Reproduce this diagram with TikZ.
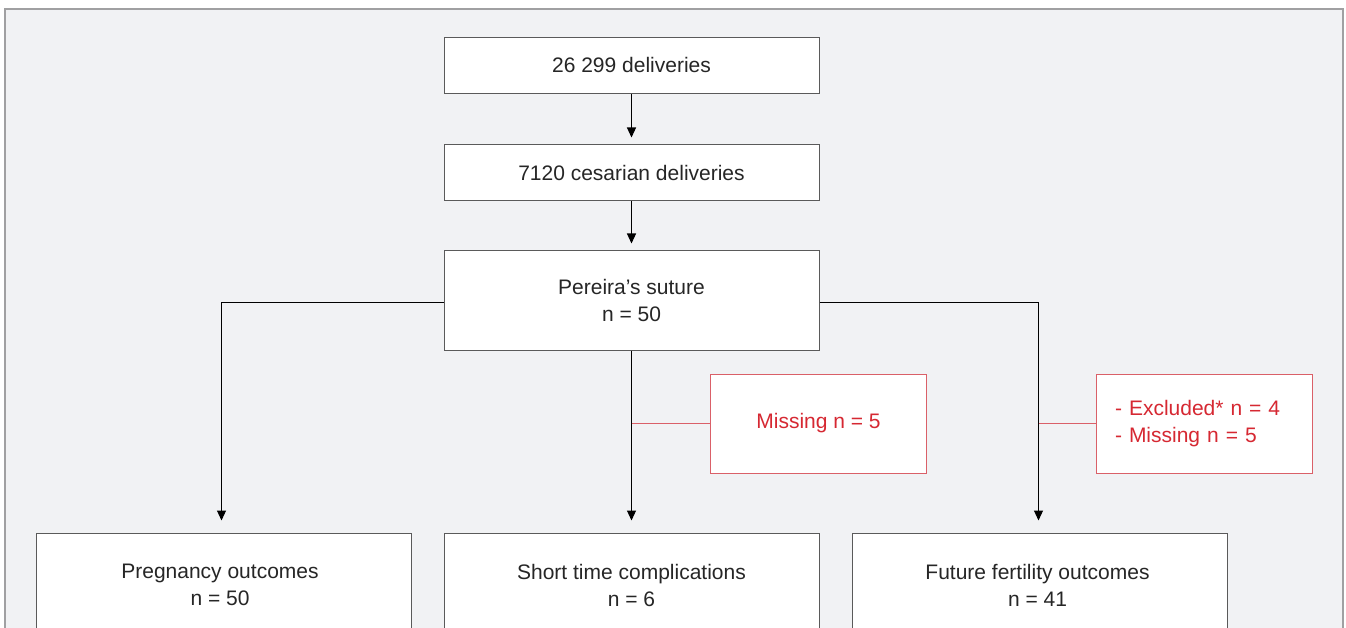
\documentclass[tikz,border=0pt]{standalone}
\usepackage{fontspec}
\setmainfont{Liberation Sans}
\usetikzlibrary{arrows.meta}
\definecolor{panel}{RGB}{241,242,244}
\definecolor{frame}{RGB}{160,160,162}
\definecolor{boxline}{RGB}{90,90,90}
\definecolor{misstext}{RGB}{214,40,50}
\definecolor{missline}{RGB}{218,96,104}
\begin{document}
\begin{tikzpicture}[x=1pt,y=-1pt,
  box/.style={draw=boxline,line width=1pt,fill=white,minimum width=375pt,inner sep=0pt,align=center,text=black!85,font=\fontsize{21}{27}\selectfont},
  missbox/.style={draw=missline,line width=1pt,fill=white,minimum width=216pt,minimum height=99pt,inner sep=0pt,text=misstext,font=\fontsize{21}{27}\selectfont},
  arr/.style={line width=1.1pt,-{Triangle[length=10pt,width=9pt]}},
  link/.style={missline,line width=1pt}]
\useasboundingbox (0,0) rectangle (1346,628);
\clip (0,0) rectangle (1346,628);
\fill[white] (0,0) rectangle (1346,628);
\draw[frame,fill=panel,line width=1.5pt] (5,9) rectangle (1343,660);
\node[box,minimum height=56pt] (deliveries) at (631.5,66) {\raisebox{1.5pt}{26 299 deliveries}};
\node[box,minimum height=56pt] (cesarian) at (631.5,173) {7120 cesarian deliveries};
\node[box,minimum height=99pt] (suture) at (631.5,300.5) {Pereira’s suture\\n = 50};
\node[missbox] (missA) at (818.5,423.5) {Missing n = 5};
\node[missbox,align=left,text width=178pt] (missB) at (1204,423.5) {- Excluded* n = 4\\- Missing n = 5};
\node[box,minimum height=104pt] (pregnancy) at (224,585) {\hspace*{-8pt}Pregnancy outcomes\\\hspace*{-8pt}n = 50};
\node[box,minimum height=104pt] (shortterm) at (631.5,585) {Short time complications\\n = 6};
\node[box,minimum height=104pt] (fertility) at (1039.5,585) {\hspace*{-4pt}Future fertility outcomes\\\hspace*{-4pt}n = 41};
\coordinate (jA) at (suture.south |- missA.west);
\coordinate (jB) at ([xshift=-1pt]fertility.north |- missB.west);
\coordinate (dropP) at ([xshift=-2.5pt]pregnancy.north);
\coordinate (dropF) at ([xshift=-1pt]fertility.north);
\draw[arr,shorten >=7pt] (deliveries) -- (cesarian);
\draw[arr,shorten >=7pt] (cesarian) -- (suture);
\draw[arr,shorten >=12pt] ([yshift=-2pt]suture.west) -| (dropP);
\draw[arr,shorten >=12pt] (suture) -- (shortterm);
\draw[arr,shorten >=12pt] ([yshift=-2pt]suture.east) -| (dropF);
\draw[link] (jA) -- (missA.west);
\draw[link] (jB) -- (missB.west);
\end{tikzpicture}
\end{document}
